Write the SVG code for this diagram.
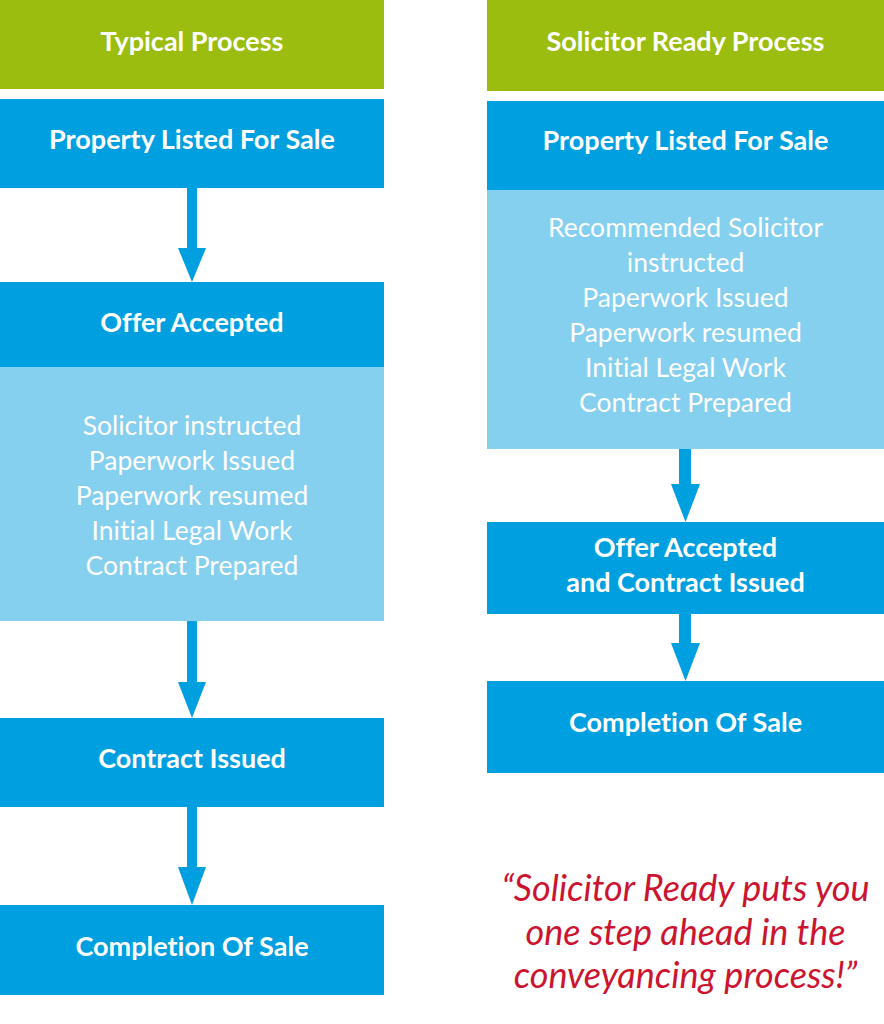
<svg xmlns="http://www.w3.org/2000/svg" width="884" height="1024" viewBox="0 0 884 1024">
<style>
text{font-variant-ligatures:none;font-feature-settings:"liga" 0,"dlig" 0}
.hdr{fill:#9abd0f}
.box{fill:#009fdf}
.lt{fill:#85cfef}
.b{font-family:Lato,"Open Sans","Liberation Sans",sans-serif;font-weight:700;font-size:27px;fill:#fff;text-anchor:middle}
.r{font-family:Lato,"Open Sans","Liberation Sans",sans-serif;font-weight:400;font-size:26.5px;fill:#fff;text-anchor:middle}
.q{font-family:Lato,"Open Sans","Liberation Sans",sans-serif;font-style:italic;font-size:36px;fill:#cc1430;text-anchor:middle}
.arr{fill:#009fdf}
</style>
<rect width="884" height="1024" fill="#fff"/>
<g id="left-header"><rect class="hdr" x="0" y="0" width="384" height="89"/><text class="b" x="192" y="51">Typical Process</text></g>
<g id="left-listed"><rect class="box" x="0" y="99" width="384" height="89"/><text class="b" x="192" y="149">Property Listed For Sale</text></g>
<g id="left-offer"><rect class="box" x="0" y="282" width="384" height="86"/><text class="b" x="192" y="332">Offer Accepted</text></g>
<g id="left-steps"><rect class="lt" x="0" y="367" width="384" height="254"/>
<text class="r" x="192" y="435">Solicitor instructed</text>
<text class="r" x="192" y="470">Paperwork Issued</text>
<text class="r" x="192" y="505">Paperwork resumed</text>
<text class="r" x="192" y="540">Initial Legal Work</text>
<text class="r" x="192" y="575">Contract Prepared</text></g>
<g id="left-contract"><rect class="box" x="0" y="718" width="384" height="89"/><text class="b" x="192" y="768">Contract Issued</text></g>
<g id="left-completion"><rect class="box" x="0" y="905" width="384" height="90"/><text class="b" x="192" y="956">Completion Of Sale</text></g>
<g id="right-header"><rect class="hdr" x="487" y="0" width="397" height="91"/><text class="b" x="685.5" y="51">Solicitor Ready Process</text></g>
<g id="right-listed"><rect class="box" x="487" y="101" width="397" height="90"/><text class="b" x="685.5" y="150">Property Listed For Sale</text></g>
<g id="right-steps"><rect class="lt" x="487" y="190" width="397" height="259"/>
<text class="r" x="685.5" y="237">Recommended Solicitor</text>
<text class="r" x="685.5" y="272">instructed</text>
<text class="r" x="685.5" y="307">Paperwork Issued</text>
<text class="r" x="685.5" y="342">Paperwork resumed</text>
<text class="r" x="685.5" y="377">Initial Legal Work</text>
<text class="r" x="685.5" y="412">Contract Prepared</text></g>
<g id="right-offer"><rect class="box" x="487" y="522" width="397" height="92"/><text class="b" x="685.5" y="557">Offer Accepted</text><text class="b" x="685.5" y="592">and Contract Issued</text></g>
<g id="right-completion"><rect class="box" x="487" y="681" width="397" height="92"/><text class="b" x="685.5" y="732">Completion Of Sale</text></g>
<g id="quote">
<text class="q" x="685.5" y="901">“Solicitor Ready puts you</text>
<text class="q" x="685.5" y="945">one step ahead in the</text>
<text class="q" x="685.5" y="988">conveyancing process!”</text></g>
<g id="connectors">
<polygon class="arr" points="187,188 197,188 197,248 206,248 192,282 178,248 187,248"/>
<polygon class="arr" points="187,621 197,621 197,682 206,682 192,718 178,682 187,682"/>
<polygon class="arr" points="187,807 197,807 197,867 206,867 192,905 178,867 187,867"/>
<polygon class="arr" points="679,449 691,449 691,484 700,484 685.5,522 671,484 679,484"/>
<polygon class="arr" points="679,614 691,614 691,643 700,643 685.5,681 671,643 679,643"/>
</g>
</svg>
